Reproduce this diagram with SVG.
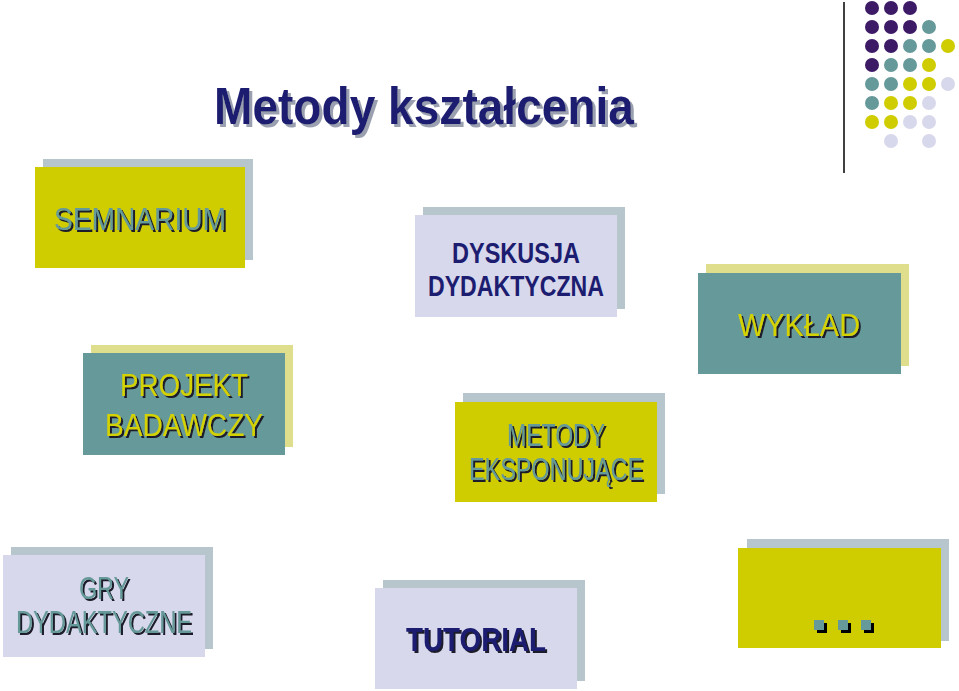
<svg xmlns="http://www.w3.org/2000/svg" width="959" height="691" viewBox="0 0 959 691">
<defs>
<filter id="sd" x="-10%" y="-20%" width="130%" height="150%"><feDropShadow dx="2" dy="2" stdDeviation="0" flood-color="#1a1a2a"/></filter>
<filter id="sg" x="-10%" y="-20%" width="130%" height="150%"><feDropShadow dx="3" dy="3" stdDeviation="0" flood-color="#9aa0b0"/></filter>
</defs>
<style>
text{font-family:"Liberation Sans Narrow","Liberation Sans",Arial,sans-serif;text-anchor:middle}
.bk-g{fill:#b6c6cc}.bk-y{fill:#dede8c}
.yl{fill:#cfcd00}.tl{fill:#669999}.lv{fill:#d8d8ec}
.t1{font-size:31px;fill:#669999;filter:url(#sd)}.t2{font-size:31px;fill:#d4d200;filter:url(#sd)}.t3{font-size:29px;fill:#1c1c70;font-weight:bold}
.p{fill:#3d1a66}.c{fill:#669999}.y{fill:#cfcd00}.l{fill:#d8d8ec}
</style>
<g id="decor">
<line x1="844" y1="2" x2="844" y2="173" stroke="#000" stroke-width="1.5"/>
<circle class="p" cx="872" cy="8" r="7"/><circle class="p" cx="891" cy="8" r="7"/><circle class="p" cx="910" cy="8" r="7"/>
<circle class="p" cx="872" cy="27" r="7"/><circle class="p" cx="891" cy="27" r="7"/><circle class="p" cx="910" cy="27" r="7"/><circle class="c" cx="929" cy="27" r="7"/>
<circle class="p" cx="872" cy="46" r="7"/><circle class="p" cx="891" cy="46" r="7"/><circle class="c" cx="910" cy="46" r="7"/><circle class="c" cx="929" cy="46" r="7"/><circle class="y" cx="948" cy="46" r="7"/>
<circle class="p" cx="872" cy="65" r="7"/><circle class="c" cx="891" cy="65" r="7"/><circle class="c" cx="910" cy="65" r="7"/><circle class="y" cx="929" cy="65" r="7"/>
<circle class="c" cx="872" cy="84" r="7"/><circle class="c" cx="891" cy="84" r="7"/><circle class="y" cx="910" cy="84" r="7"/><circle class="y" cx="929" cy="84" r="7"/><circle class="l" cx="948" cy="84" r="7"/>
<circle class="c" cx="872" cy="103" r="7"/><circle class="y" cx="891" cy="103" r="7"/><circle class="y" cx="910" cy="103" r="7"/><circle class="l" cx="929" cy="103" r="7"/>
<circle class="y" cx="872" cy="122" r="7"/><circle class="y" cx="891" cy="122" r="7"/><circle class="l" cx="910" cy="122" r="7"/><circle class="l" cx="929" cy="122" r="7"/>
<circle class="l" cx="891" cy="141" r="7"/><circle class="l" cx="929" cy="141" r="7"/>
</g>
<g id="title">
<text x="424" y="124" font-size="52" font-weight="bold" fill="#1c1c70" filter="url(#sg)" textLength="420" lengthAdjust="spacingAndGlyphs">Metody kształcenia</text>
</g>
<g id="semnarium">
<rect class="bk-g" x="43" y="159" width="210" height="101"/><rect class="yl" x="35" y="167" width="210" height="101"/>
<text class="t1" x="140" y="230" textLength="172" lengthAdjust="spacingAndGlyphs">SEMNARIUM</text>
</g>
<g id="projekt">
<rect class="bk-y" x="91" y="345" width="202" height="102"/><rect class="tl" x="83" y="353" width="202" height="102"/>
<text class="t2" x="184" y="396" textLength="128" lengthAdjust="spacingAndGlyphs">PROJEKT</text>
<text class="t2" x="184" y="436" textLength="158" lengthAdjust="spacingAndGlyphs">BADAWCZY</text>
</g>
<g id="dyskusja">
<rect class="bk-g" x="423" y="207" width="202" height="102"/><rect class="lv" x="415" y="215" width="202" height="102"/>
<text class="t3" x="516" y="263" textLength="128" lengthAdjust="spacingAndGlyphs">DYSKUSJA</text>
<text class="t3" x="516" y="296" textLength="176" lengthAdjust="spacingAndGlyphs">DYDAKTYCZNA</text>
</g>
<g id="wyklad">
<rect class="bk-y" x="706" y="264" width="203" height="102"/><rect class="tl" x="698" y="273" width="203" height="101"/>
<text class="t2" x="799" y="336" textLength="122" lengthAdjust="spacingAndGlyphs">WYKŁAD</text>
</g>
<g id="metody">
<rect class="bk-g" x="463" y="393" width="202" height="101"/><rect class="yl" x="455" y="402" width="202" height="100"/>
<text class="t1" x="556" y="446" font-size="29" textLength="98" lengthAdjust="spacingAndGlyphs">METODY</text>
<text class="t1" x="556" y="480" font-size="29" textLength="174" lengthAdjust="spacingAndGlyphs">EKSPONUJĄCE</text>
</g>
<g id="gry">
<rect class="bk-g" x="11" y="547" width="202" height="102"/><rect class="lv" x="3" y="555" width="202" height="102"/>
<text class="t1" x="104" y="599" font-size="29" textLength="50" lengthAdjust="spacingAndGlyphs">GRY</text>
<text class="t1" x="104" y="633" font-size="29" textLength="176" lengthAdjust="spacingAndGlyphs">DYDAKTYCZNE</text>
</g>
<g id="tutorial">
<rect class="bk-g" x="383" y="580" width="202" height="101"/><rect class="lv" x="375" y="588" width="202" height="101"/>
<text x="476" y="651" font-size="34" font-weight="bold" fill="#1c1c70" filter="url(#sd)" textLength="140" lengthAdjust="spacingAndGlyphs">TUTORIAL</text>
</g>
<g id="more">
<rect class="bk-g" x="747" y="539" width="202" height="102"/><rect class="yl" x="738" y="548" width="203" height="100"/>
<rect x="817" y="623" width="10" height="10" fill="#000"/><rect x="814" y="620" width="10" height="10" fill="#669999"/>
<rect x="841" y="623" width="10" height="10" fill="#000"/><rect x="838" y="620" width="10" height="10" fill="#669999"/>
<rect x="864" y="623" width="10" height="10" fill="#000"/><rect x="861" y="620" width="10" height="10" fill="#669999"/>
</g>
</svg>
